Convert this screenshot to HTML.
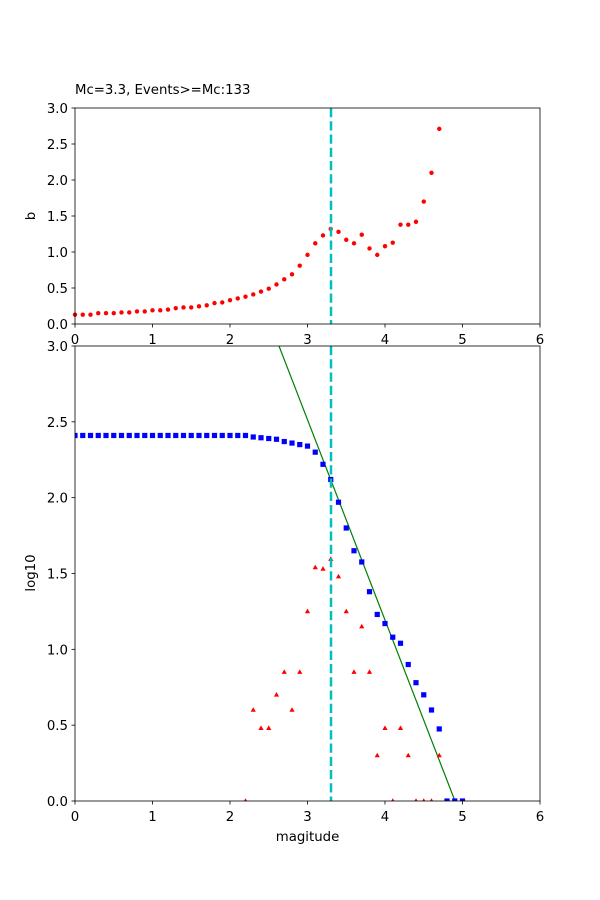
<!DOCTYPE html>
<html><head><meta charset="utf-8"><style>body{margin:0;background:#fff}svg{display:block}text{font-family:"DejaVu Sans","Liberation Sans",sans-serif;font-size:13.3px;fill:#000}</style></head>
<body>
<svg id="s" width="600" height="900" xmlns="http://www.w3.org/2000/svg">
<rect width="600" height="900" fill="#fff"/>
</svg>
<script>
var s=document.getElementById('s'),NS='http://www.w3.org/2000/svg';
function el(t,a,txt){var e=document.createElementNS(NS,t);for(var k in a)e.setAttribute(k,a[k]);if(txt!=null)e.textContent=txt;s.appendChild(e);return e;}
var X=function(m){return 75+m*77.5;};
var Y1=function(v){return 324-v*72;};
var Y2=function(v){return 801-v*151.667;};
var b=[0.13,0.13,0.13,0.15,0.15,0.15,0.16,0.16,0.175,0.175,0.19,0.19,0.2,0.22,0.23,0.23,0.245,0.26,0.29,0.3,0.33,0.355,0.38,0.41,0.45,0.49,0.55,0.62,0.69,0.81,0.96,1.12,1.23,1.32,1.28,1.17,1.12,1.24,1.05,0.96,1.08,1.13,1.38,1.38,1.42,1.70,2.10,2.71];
b.forEach(function(v,i){el('circle',{cx:X(i/10),cy:Y1(v),r:2.2,fill:'red'});});
var blue=[];for(var i=0;i<=22;i++)blue.push(2.41);
blue=blue.concat([2.40,2.395,2.39,2.385,2.37,2.36,2.35,2.34,2.30,2.22,2.12,1.97,1.80,1.65,1.576,1.38,1.23,1.17,1.08,1.04,0.90,0.78,0.70,0.60,0.475,0,0,0]);
var red={22:0,23:0.60,24:0.48,25:0.48,26:0.70,27:0.85,28:0.60,29:0.85,30:1.25,31:1.54,32:1.53,33:1.595,34:1.48,35:1.25,36:0.85,37:1.15,38:0.85,39:0.30,40:0.48,41:0,42:0.48,43:0.30,44:0,45:0,46:0,47:0.30};
var cp=el('clipPath',{id:'c2'});var r=document.createElementNS(NS,'rect');r.setAttribute('x',75);r.setAttribute('y',346);r.setAttribute('width',465);r.setAttribute('height',455);cp.appendChild(r);
var g=el('g',{'clip-path':'url(#c2)'});
function add(p,t,a){var e=document.createElementNS(NS,t);for(var k in a)e.setAttribute(k,a[k]);p.appendChild(e);}
add(g,'line',{x1:279,y1:346,x2:455,y2:801,stroke:'green','stroke-width':1.2});
blue.forEach(function(v,i){var x=X(i/10),y=Y2(v);add(g,'rect',{x:x-2.6,y:y-2.6,width:5.2,height:5.2,fill:'blue'});});
for(var k in red){var x=X(k/10),y=Y2(red[k]);add(g,'polygon',{points:(x)+','+(y-2.8)+' '+(x-2.6)+','+(y+1.8)+' '+(x+2.6)+','+(y+1.8),fill:'red'});}
el('line',{x1:331,y1:108,x2:331,y2:324,stroke:'#00bfbf','stroke-width':2.5,'stroke-dasharray':'9.25,4'});
el('line',{x1:331,y1:346,x2:331,y2:801,stroke:'#00bfbf','stroke-width':2.5,'stroke-dasharray':'9.25,4'});
el('rect',{x:75,y:108,width:465,height:216,fill:'none',stroke:'#000','stroke-width':0.8});
el('rect',{x:75,y:346,width:465,height:455,fill:'none',stroke:'#000','stroke-width':0.8});
for(var m=0;m<=6;m++){var x=X(m);
 el('line',{x1:x,y1:324,x2:x,y2:327.5,stroke:'#000','stroke-width':0.8});el('text',{x:x,y:344,'text-anchor':'middle'},m);
 el('line',{x1:x,y1:801,x2:x,y2:804.5,stroke:'#000','stroke-width':0.8});el('text',{x:x,y:821,'text-anchor':'middle'},m);}
for(var j=0;j<=6;j++){var v=j*0.5,l=v.toFixed(1);
 var y=Y1(v);el('line',{x1:71.5,y1:y,x2:75,y2:y,stroke:'#000','stroke-width':0.8});el('text',{x:68,y:y+5,'text-anchor':'end'},l);
 y=Y2(v);el('line',{x1:71.5,y1:y,x2:75,y2:y,stroke:'#000','stroke-width':0.8});el('text',{x:68,y:y+5,'text-anchor':'end'},l);}
el('text',{x:75,y:94},'Mc=3.3, Events>=Mc:133');
el('text',{x:35,y:216,'text-anchor':'middle',transform:'rotate(-90 35 216)'},'b');
el('text',{x:35,y:573,'text-anchor':'middle',transform:'rotate(-90 35 573)'},'log10');
el('text',{x:307.5,y:841,'text-anchor':'middle'},'magitude');
</script>
</body></html>
